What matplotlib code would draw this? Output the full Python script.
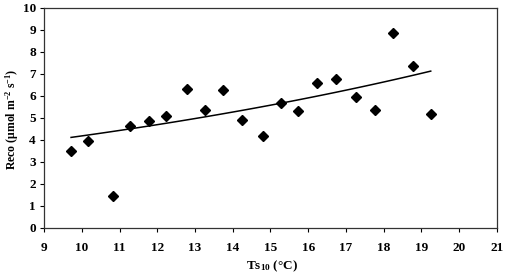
import numpy as np
import matplotlib
matplotlib.use('Agg')
import matplotlib.pyplot as plt

# soil temperature at 10 cm and ecosystem respiration
ts10 = [9.71, 10.17, 10.81, 11.27, 11.77, 12.24, 12.78, 13.27, 13.75, 14.25,
        14.81, 15.28, 15.74, 16.23, 16.73, 17.28, 17.77, 18.24, 18.78, 19.25]
reco = [3.49, 3.95, 1.44, 4.64, 4.86, 5.07, 6.33, 5.34, 6.27, 4.89,
        4.17, 5.69, 5.31, 6.60, 6.78, 5.95, 5.34, 8.86, 7.35, 5.16]

# exponential trendline: y = a * exp(b * x)
trend_a = 2.347
trend_b = 0.0577

plt.rcParams['font.family'] = 'Liberation Serif'
plt.rcParams['font.weight'] = 'bold'
plt.rcParams['mathtext.fontset'] = 'custom'
plt.rcParams['mathtext.rm'] = 'Liberation Serif:bold'
plt.rcParams['mathtext.it'] = 'Liberation Serif:bold'
plt.rcParams['mathtext.bf'] = 'Liberation Serif:bold'

fig = plt.figure(figsize=(5.09, 2.75), dpi=100)
ax = fig.add_axes([44.3 / 509, 1 - 227.7 / 275, (496.7 - 44.3) / 509, (227.7 - 8) / 275])

ax.plot(ts10, reco, linestyle='none', marker='D', markersize=5.6, color='black')

xt = np.linspace(min(ts10), max(ts10), 50)
ax.plot(xt, trend_a * np.exp(trend_b * xt), color='black', linewidth=1.1)

ax.set_xlim(9, 21)
ax.set_ylim(0, 10)
ax.set_xticks(range(9, 22))
ax.set_yticks(range(0, 11))
ax.tick_params(direction='out', length=3, width=0.8, labelsize=9.5)
ax.tick_params(axis='x', pad=7)
ax.tick_params(axis='y', pad=3)
for s in ax.spines.values():
    s.set_linewidth(0.9)
    s.set_color('#333333')

ax.set_xlabel('Ts$_{10}$ (°C)', fontsize=9.5, fontweight='bold')
ax.set_ylabel('Reco (μmol m$^{-2}$ s$^{-1}$)', fontsize=8.5, fontweight='bold')
ax.xaxis.set_label_coords(0.503, -0.142)
ax.yaxis.set_label_coords(-0.052, 0.495)

fig.savefig('out.png', dpi=100)
